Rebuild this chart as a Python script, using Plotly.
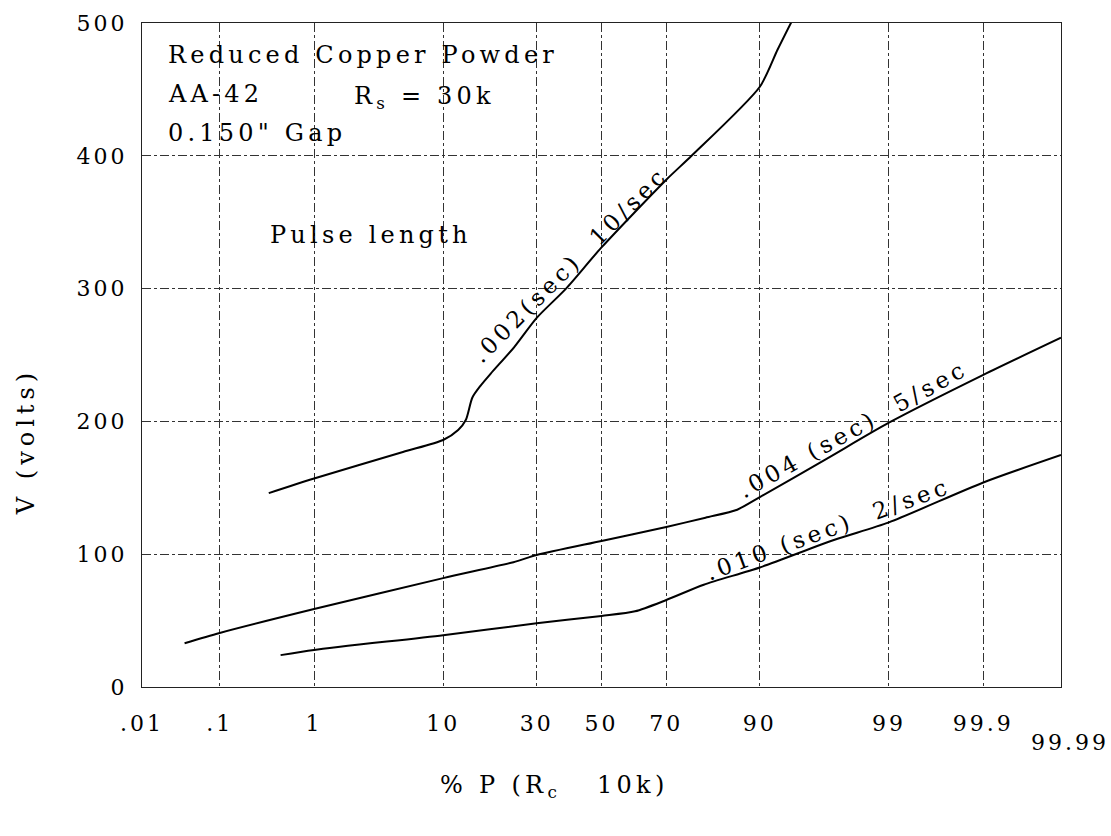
from statistics import NormalDist
import plotly.graph_objects as go

# ---- data (percent P, volts) ----
tick_pct = [0.01, 0.1, 1, 10, 30, 50, 70, 90, 99, 99.9]
tick_txt = [".01", ".1", "1", "10", "30", "50", "70", "90", "99", "99.9"]
last_pct = 99.99
last_txt = "99.99"
y_ticks = [0, 100, 200, 300, 400, 500]

a_pct = [0.354, 1, 5.4, 10, 12.3, 13.6, 14.8, 16.4, 18.5, 24, 30, 38.7, 50, 70, 76.7, 90, 92.3, 94.0]
a_volts = [146, 157, 177, 186, 193.5, 201, 218, 227, 236, 256, 278, 300, 331, 382, 400, 452, 480, 504]

b_pct = [0.037, 0.1, 1, 10, 23.8, 30, 50, 70, 80, 86.4, 90, 96.6, 99, 99.9, 99.99]
b_volts = [33, 40.7, 58.7, 82, 94, 99.4, 110, 120.5, 127.5, 133.5, 143, 172, 199, 235, 263]

c_pct = [0.47, 1, 10, 30, 50, 60.7, 70, 79.6, 90, 97, 99, 99.9, 99.99]
c_volts = [24, 27.9, 39, 48, 53.5, 57, 65.5, 77, 90, 110.7, 124, 154, 174.7]

ND = NormalDist()


def probit(pct):
    return ND.inv_cdf(pct / 100.0)


FONT = "DejaVu Serif"


def spaced(txt, sp):
    return f'<span style="letter-spacing:{sp}px">{txt}</span>'


fig = go.Figure()
for xs, ys in [(a_pct, a_volts), (b_pct, b_volts), (c_pct, c_volts)]:
    fig.add_trace(go.Scatter(
        x=[probit(p) for p in xs], y=ys, mode="lines",
        line=dict(color="black", width=2, shape="spline", smoothing=0.7),
        showlegend=False, hoverinfo="skip", cliponaxis=True))

xmin, xmax = probit(tick_pct[0]), probit(last_pct)

fig.update_xaxes(
    range=[xmin, xmax],
    tickvals=[probit(p) for p in tick_pct],
    ticktext=[spaced(t, 3) for t in tick_txt],
    ticks="", ticklabelstandoff=16,
    showgrid=True, gridcolor="#333", gridwidth=1, griddash="dashdot",
    showline=True, linecolor="#222", linewidth=1.3, mirror=True,
    zeroline=False,
    tickfont=dict(family=FONT, size=22, color="black"),
)
fig.update_yaxes(
    range=[0, 500],
    tickvals=y_ticks,
    ticktext=[spaced(str(v), 3) for v in y_ticks],
    ticks="", ticklabelstandoff=9,
    showgrid=True, gridcolor="#333", gridwidth=1, griddash="dashdot",
    showline=True, linecolor="#222", linewidth=1.3, mirror=True,
    zeroline=False,
    tickfont=dict(family=FONT, size=22, color="black"),
)


def ann(text, x, y, sp=4.2, xanchor="left", angle=0, size=24, xref="paper", yref="paper", xshift=0):
    fig.add_annotation(text=spaced(text, sp), x=x, y=y, xref=xref, yref=yref,
                       xanchor=xanchor, yanchor="middle", textangle=angle,
                       showarrow=False, xshift=xshift,
                       font=dict(family=FONT, size=size, color="black"))


ann("Reduced Copper Powder", 0.026, 0.952)
ann("AA-42", 0.026, 0.893)
ann("R<sub>s</sub> = 30k", 0.2285, 0.888)
ann("0.150\" Gap", 0.026, 0.834)
ann("Pulse length", 0.137, 0.681)

ann(".002(sec)\u00a0\u00a010/sec", 0.465, 0.636, sp=4, xanchor="center", angle=-45, size=23)
ann(".004 (sec)\u00a0\u00a05/sec", 0.774, 0.388, sp=4, xanchor="center", angle=-29, size=23)
ann(".010 (sec)\u00a0\u00a02/sec", 0.7465, 0.238, sp=4, xanchor="center", angle=-20, size=23)

ann(last_txt, xmax, -0.0843, sp=3, xanchor="center", size=22, xref="x", xshift=9)
ann("% P (R<sub>c</sub>\u00a0\u00a0\u00a010k)", 0.449, -0.1506, sp=4.3, xanchor="center")
ann("V (volts)", -0.126, 0.369, sp=5, xanchor="center", angle=-90)

fig.update_layout(
    width=1111, height=836,
    margin=dict(l=142, r=50, t=23, b=149, pad=0),
    paper_bgcolor="white", plot_bgcolor="white",
    showlegend=False,
)

fig.write_html("out.html")
